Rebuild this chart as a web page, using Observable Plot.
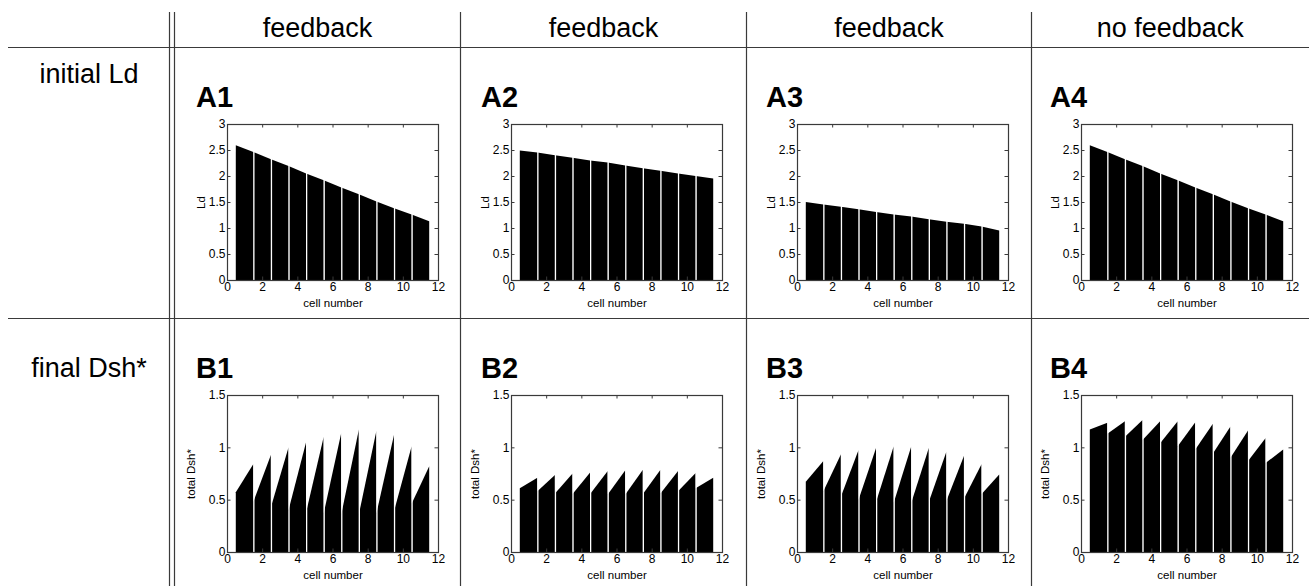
<!DOCTYPE html>
<html><head><meta charset="utf-8">
<script src="https://cdn.jsdelivr.net/npm/d3@7"></script>
<script src="https://cdn.jsdelivr.net/npm/@observablehq/plot@0.6"></script>
<style>
body{margin:0;background:#fff;}
#fig{position:relative;width:1309px;height:586px;overflow:hidden;font-family:"Liberation Sans",Arial,sans-serif;background:#fff;}
#fig > svg.grid{position:absolute;left:0;top:0;}
.panel{position:absolute;}
</style></head><body><div id="fig"></div>
<script>
// ---- data ----
const cells = [1,2,3,4,5,6,7,8,9,10,11];
const columnHeaders = ["feedback","feedback","feedback","no feedback"];
const rowLabels = ["initial Ld","final Dsh*"];
const panelLabels = [["A1","A2","A3","A4"],["B1","B2","B3","B4"]];
const xTicks = [0,2,4,6,8,10,12];
const yTicksLd = [0,0.5,1,1.5,2,2.5,3];
const yTicksDsh = [0,0.5,1,1.5];
const yLabels = ["Ld","total Dsh*"];
const xLabel = "cell number";

// initial Ld: values at cell boundaries (x = 0.5 ... 11.5)
const ldA1 = [2.59,2.46,2.32,2.19,2.05,1.92,1.78,1.65,1.51,1.38,1.26,1.13];
const ldA2 = [2.49,2.45,2.40,2.35,2.30,2.26,2.20,2.15,2.10,2.05,2.00,1.95];
const ldA3 = [1.50,1.45,1.41,1.36,1.31,1.26,1.22,1.17,1.12,1.08,1.03,0.95];
const ldA4 = [2.59,2.46,2.32,2.19,2.05,1.92,1.78,1.65,1.51,1.38,1.26,1.13];

// final Dsh*: value at left and right edge of each cell
const dshB1Left  = [0.57,0.48,0.43,0.40,0.38,0.37,0.36,0.36,0.37,0.39,0.46];
const dshB1Right = [0.84,0.93,1.00,1.05,1.10,1.14,1.17,1.16,1.12,1.01,0.82];
const dshB2Left  = [0.61,0.58,0.56,0.555,0.555,0.55,0.55,0.555,0.56,0.58,0.61];
const dshB2Right = [0.71,0.735,0.75,0.76,0.775,0.78,0.785,0.785,0.775,0.755,0.71];
const dshB3Left  = [0.67,0.58,0.53,0.50,0.48,0.47,0.47,0.48,0.49,0.51,0.555];
const dshB3Right = [0.87,0.935,0.975,0.995,1.01,1.01,0.995,0.96,0.92,0.84,0.74];
const dshB4Left  = [1.17,1.13,1.10,1.07,1.04,1.01,0.98,0.94,0.90,0.87,0.85];
const dshB4Right = [1.235,1.25,1.26,1.25,1.25,1.24,1.225,1.20,1.16,1.09,0.98];

// ---- layout ----
const W = 1309, H = 586;
const colEdges = [174.5, 460.5, 746.5, 1031.5, 1309];
const frameLeft = [227, 511, 797, 1081];
const frameW = 211;
const frameTop = [124, 395];
const frameH = [156, 157];
const lineColor = "#3a3a3a";

const fig = document.getElementById("fig");
const NS = "http://www.w3.org/2000/svg";
const grid = document.createElementNS(NS, "svg");
grid.setAttribute("class", "grid");
grid.setAttribute("width", W); grid.setAttribute("height", H);
function line(x1,y1,x2,y2,w){
  const l = document.createElementNS(NS,"line");
  l.setAttribute("x1",x1);l.setAttribute("y1",y1);l.setAttribute("x2",x2);l.setAttribute("y2",y2);
  l.setAttribute("stroke",lineColor);l.setAttribute("stroke-width",w||1.2);
  grid.appendChild(l);
}
function text(str,x,y,size,anchor,weight){
  const t = document.createElementNS(NS,"text");
  t.textContent = str;
  t.setAttribute("x",x);t.setAttribute("y",y);
  t.setAttribute("font-size",size);
  t.setAttribute("text-anchor",anchor||"middle");
  t.setAttribute("font-family","Liberation Sans, Arial, sans-serif");
  if (weight) t.setAttribute("font-weight",weight);
  t.setAttribute("fill","#000");
  grid.appendChild(t);
}
line(8,47.5,W,47.5);
line(8,318.5,W,318.5);
line(169.5,12,169.5,H);
line(174.5,12,174.5,H);
[460.5,746.5,1031.5].forEach(x=>line(x,12,x,H));
columnHeaders.forEach((h,i)=>text(h,(colEdges[i]+colEdges[i+1])/2,37,27));
text(rowLabels[0],89,83,27);
text(rowLabels[1],89,377,27);
const labelX = [196, 481, 766, 1050];
panelLabels.forEach((row,r)=>row.forEach((lab,c)=>text(lab,labelX[c],r===0?107:378,29,"start","bold")));
fig.appendChild(grid);

// ---- panels ----
function boundaryRows(vals){
  return cells.flatMap((c,i)=>[{cell:c,x:c-0.5,y:vals[i]},{cell:c,x:c+0.5,y:vals[i+1]}]);
}
function edgeRows(left,right){
  return cells.flatMap((c,i)=>[{cell:c,x:c-0.5,y:left[i]},{cell:c,x:c+0.5,y:right[i]}]);
}
const panels = [
  [boundaryRows(ldA1), boundaryRows(ldA2), boundaryRows(ldA3), boundaryRows(ldA4)],
  [edgeRows(dshB1Left,dshB1Right), edgeRows(dshB2Left,dshB2Right), edgeRows(dshB3Left,dshB3Right), edgeRows(dshB4Left,dshB4Right)]
];
const mL = 48, mR = 10, mT = 8, mB = 32;
const separators = cells.slice(1).map(c=>c-0.5);

panels.forEach((row,r)=>row.forEach((rows,c)=>{
  const yTicks = r===0 ? yTicksLd : yTicksDsh;
  const fh = frameH[r];
  const chart = Plot.plot({
    width: mL+frameW+mR, height: mT+fh+mB,
    marginLeft: mL, marginRight: mR, marginTop: mT, marginBottom: mB,
    style: {fontFamily: "Liberation Sans, Arial, sans-serif", fontSize: "12px", color: "#000", background: "transparent", overflow: "visible"},
    x: {domain: [0,12]},
    y: {domain: [0, yTicks[yTicks.length-1]]},
    marks: [
      Plot.area(rows, {x1:"x", y1:0, y2:"y", z:"cell", fill:"black", curve:"linear"}),
      Plot.ruleX(separators, {stroke:"white", strokeWidth:1.3}),
      Plot.tickX(xTicks, {x:d=>d, insetTop: fh-3.5, stroke:lineColor}),
      Plot.tickX(xTicks, {x:d=>d, insetBottom: fh-3.5, stroke:lineColor}),
      Plot.tickY(yTicks, {y:d=>d, insetLeft: frameW-3.5, stroke:lineColor}),
      Plot.tickY(yTicks, {y:d=>d, insetRight: frameW-3.5, stroke:lineColor}),
      Plot.axisX({ticks: xTicks, tickSize: 0, tickPadding: 2, tickFormat: d=>`${d}`, fontSize: 12, label: null}),
      Plot.axisX({ticks: [], tickSize: 0, label: xLabel, labelAnchor: "center", labelArrow: "none", labelOffset: 26, fontSize: 11.5}),
      Plot.axisY({ticks: yTicks, tickSize: 0, tickPadding: 2, tickFormat: d=>`${d}`, fontSize: 12, label: null}),
      Plot.axisY({ticks: [], tickSize: 0, label: yLabels[r], labelAnchor: "center", labelArrow: "none", labelOffset: r===0 ? 31 : 41, fontSize: 11.5}),
      Plot.frame({stroke: lineColor, strokeWidth: 1.2})
    ]
  });
  chart.classList.add("panel");
  chart.style.position = "absolute";
  chart.style.left = (frameLeft[c]-mL)+"px";
  chart.style.top = (frameTop[r]-mT)+"px";
  fig.appendChild(chart);
}));
</script>
</body></html>
